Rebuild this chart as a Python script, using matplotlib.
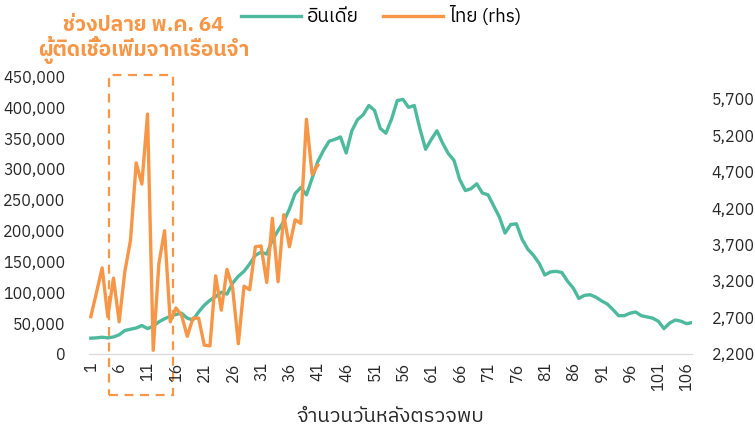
import matplotlib
matplotlib.use("Agg")
import matplotlib.pyplot as plt
import matplotlib.transforms as mtransforms
from matplotlib import font_manager
from matplotlib.ft2font import FT2Font
from matplotlib.patches import Rectangle
from matplotlib.lines import Line2D

# days since detection
days = list(range(1, 108))

india = [
    25500, 26000, 27000, 26000, 27500, 31000, 38000, 40000, 42000, 46000,
    41000, 45000, 52000, 57000, 61000, 64000, 66000, 58000, 55000, 68000,
    79000, 87000, 93000, 100000, 97000, 115000, 126000, 134000, 146000, 160000,
    165000, 162000, 185000, 200000, 215000, 235000, 260000, 270000, 258000, 285000,
    312000, 330000, 345000, 348000, 352000, 326000, 362000, 380000, 388000, 403000,
    395000, 366000, 358000, 381000, 411000, 413000, 400000, 403000, 365000, 332000,
    348000, 362000, 342000, 325000, 314000, 283000, 265000, 268000, 276000, 261000,
    258000, 240000, 222000, 196000, 210000, 211000, 186000, 170000, 160000, 147000,
    128000, 133000, 134000, 132000, 118000, 107000, 90000, 95000, 96000, 92000,
    86000, 81000, 72000, 62000, 62000, 66000, 68000, 62000, 60000, 58000,
    53000, 41000, 50000, 55000, 53000, 49000, 51000,
]

thai = [
    2710, 3040, 3380, 2710, 3240, 2640, 3330, 3760, 4820, 4530,
    5490, 2250, 3440, 3890, 2640, 2830, 2730, 2440, 2690, 2690,
    2320, 2310, 3270, 2800, 3360, 3100, 2340, 3130, 3080, 3670,
    3680, 3180, 4060, 3190, 4110, 3670, 4040, 3990, 5420, 4660,
    4790,
]

x_ticks = list(range(1, 107, 5))
left_ticks = list(range(0, 450001, 50000))
right_ticks = list(range(2200, 5701, 500))

TEAL = "#4DB99D"
ORANGE = "#F79646"
TEXT = "#262626"


def _thai_family():
    fonts = sorted(font_manager.fontManager.ttflist, key=lambda f: "Thai" not in f.name)
    for f in fonts:
        try:
            if 0x0E01 in FT2Font(f.fname).get_charmap():
                return f.name
        except Exception:
            continue
    return "DejaVu Sans"


thai_font = _thai_family()
plt.rcParams["font.family"] = [thai_font, "DejaVu Sans"]

fig = plt.figure(figsize=(7.55, 4.3), dpi=100)
ax = fig.add_axes([0.118, 0.177, 0.799, 0.645])
ax2 = ax.twinx()

ax.plot(days, india, color=TEAL, lw=2.4, solid_joinstyle="round")
ax2.plot(days[:len(thai)], thai, color=ORANGE, lw=2.4, solid_joinstyle="round")

ax.set_xlim(0.7, 107)
ax.set_ylim(0, 450000)
ax2.set_ylim(2200, 6005)

ax.set_xticks(x_ticks)
ax.set_xticklabels([str(t) for t in x_ticks], rotation=90, fontsize=11.5, color=TEXT)
ax.set_yticks(left_ticks)
ax.set_yticklabels([f"{t:,}" for t in left_ticks], fontsize=11.5, color=TEXT)
ax2.set_yticks(right_ticks)
ax2.set_yticklabels([f"{t:,}" for t in right_ticks], fontsize=11.5, color=TEXT)

ax.tick_params(axis="both", length=0)
ax.tick_params(axis="y", pad=17)
ax.tick_params(axis="x", pad=6)
ax2.tick_params(axis="y", length=0, pad=14)

for a in (ax, ax2):
    for side in ("top", "left", "right"):
        a.spines[side].set_visible(False)
    a.spines["bottom"].set_color("#D9D9D9")

ax.set_xlabel("จำนวนวันหลังตรวจพบ", fontsize=14.5, color=TEXT, labelpad=11)

# dashed box around the late-May spike
trans = mtransforms.blended_transform_factory(ax.transData, ax.transAxes)
box = Rectangle((4.2, -0.148), 11.2, 1.152, transform=trans, fill=False,
                edgecolor=ORANGE, lw=1.6, ls=(0, (4, 3)), clip_on=False)
ax.add_patch(box)

fig.text(0.19, 0.94, "ช่วงปลาย พ.ค. 64", ha="center", va="center",
         fontsize=15, fontweight="bold", color=ORANGE)
fig.text(0.19, 0.883, "ผู้ติดเชื้อเพิ่มจากเรือนจำ", ha="center", va="center",
         fontsize=15, fontweight="bold", color=ORANGE)

handles = [Line2D([], [], color=TEAL, lw=2.4), Line2D([], [], color=ORANGE, lw=2.4)]
fig.legend(handles, ["อินเดีย", "ไทย (rhs)"], loc="center", bbox_to_anchor=(0.505, 0.962),
           ncol=2, frameon=False, fontsize=13.5, handlelength=3.2, columnspacing=1.3,
           handletextpad=0.3)

fig.savefig("out.png", dpi=100)
